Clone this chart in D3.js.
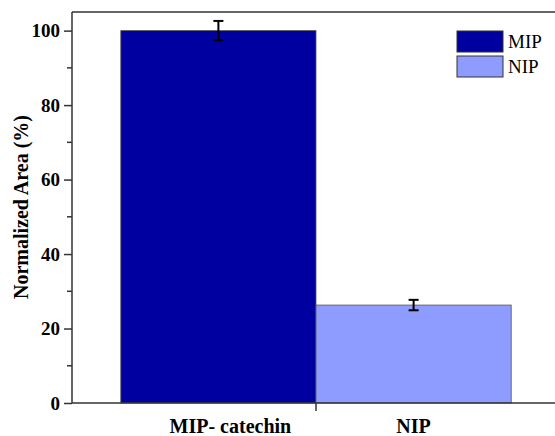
<!DOCTYPE html>
<html>
<head>
<meta charset="utf-8">
<script src="https://cdn.jsdelivr.net/npm/d3@7"></script>
<style>
  body { margin: 0; background: #fff; }
  svg { display: block; }
  .tick text { font-family: "Liberation Serif", "Times New Roman", serif; font-weight: bold; font-size: 19px; fill: #000; }
</style>
</head>
<body>
<div id="chart"></div>
<script>
// data
var categories = ["MIP- catechin", "NIP"];
var seriesNames = ["MIP", "NIP"];
var values = [100, 26.3];
var errors = [2.6, 1.4];
var colors = ["#0000a0", "#8f9cff"];
var yTicks = [0, 20, 40, 60, 80, 100];
var yMinorTicks = [10, 30, 50, 70, 90];

var svgwidth = 555, svgheight = 436;
var plot = {left: 72, right: 560, top: 12, bottom: 403};

var svg = d3.select("#chart").append("svg")
    .attr("width", svgwidth)
    .attr("height", svgheight);

let x = d3.scaleBand()
    .domain(categories)
    .range([plot.left, plot.right])
    .paddingInner(0)
    .paddingOuter(0.25);

let y = d3.scaleLinear()
    .domain([0, 105])
    .range([plot.bottom, plot.top]);

// bars
svg.selectAll("rect.bar")
    .data(categories)
  .enter().append("rect")
    .attr("class", "bar")
    .attr("x", d => x(d))
    .attr("width", x.bandwidth())
    .attr("y", (d, i) => y(values[i]))
    .attr("height", (d, i) => y(0) - y(values[i]))
    .style("fill", (d, i) => colors[i])
    .style("stroke", "#555")
    .style("stroke-width", 0.8);

// error bars
let eb = svg.selectAll("g.err")
    .data(categories)
  .enter().append("g")
    .attr("class", "err");
eb.append("line")
    .attr("x1", d => x(d) + x.bandwidth() / 2)
    .attr("x2", d => x(d) + x.bandwidth() / 2)
    .attr("y1", (d, i) => y(values[i] + errors[i]))
    .attr("y2", (d, i) => y(values[i] - errors[i]));
eb.selectAll("line.cap")
    .data((d, i) => [values[i] + errors[i], values[i] - errors[i]].map(v => ({c: d, v: v})))
  .enter().append("line")
    .attr("class", "cap")
    .attr("x1", d => x(d.c) + x.bandwidth() / 2 - 5)
    .attr("x2", d => x(d.c) + x.bandwidth() / 2 + 5)
    .attr("y1", d => y(d.v))
    .attr("y2", d => y(d.v));
eb.selectAll("line").style("stroke", "#000").style("stroke-width", 2);

// frame
svg.append("line")
    .attr("x1", plot.left).attr("x2", svgwidth)
    .attr("y1", plot.top).attr("y2", plot.top)
    .style("stroke", "#333").style("stroke-width", 1.5);

// y axis
let yAxis = d3.axisLeft(y).tickValues(yTicks).tickSize(8).tickPadding(4);
let gy = svg.append("g")
    .attr("transform", "translate(" + plot.left + ",0)")
    .call(yAxis);
gy.select(".domain").remove();
gy.selectAll(".tick line").style("stroke", "#333").style("stroke-width", 1.5);
svg.append("line")
    .attr("x1", plot.left).attr("x2", plot.left)
    .attr("y1", plot.top).attr("y2", plot.bottom)
    .style("stroke", "#333").style("stroke-width", 1.5);
svg.selectAll("line.minor")
    .data(yMinorTicks)
  .enter().append("line")
    .attr("class", "minor")
    .attr("x1", plot.left - 5).attr("x2", plot.left)
    .attr("y1", d => y(d)).attr("y2", d => y(d))
    .style("stroke", "#333").style("stroke-width", 1.5);

// x axis
svg.append("line")
    .attr("x1", plot.left).attr("x2", svgwidth)
    .attr("y1", plot.bottom).attr("y2", plot.bottom)
    .style("stroke", "#333").style("stroke-width", 1.5);
svg.append("line")
    .attr("x1", x(categories[1])).attr("x2", x(categories[1]))
    .attr("y1", plot.bottom).attr("y2", plot.bottom + 8)
    .style("stroke", "#333").style("stroke-width", 1.5);
svg.selectAll("text.xlab")
    .data(categories)
  .enter().append("text")
    .attr("class", "xlab")
    .attr("x", (d, i) => x(d) + x.bandwidth() / 2 + (i === 0 ? 12 : 0))
    .attr("y", 433)
    .attr("text-anchor", "middle")
    .style("font-family", "'Liberation Serif', 'Times New Roman', serif")
    .style("font-weight", "bold")
    .style("font-size", "20px")
    .text(d => d);

// y title
svg.append("text")
    .attr("transform", "translate(28,207) rotate(-90)")
    .attr("text-anchor", "middle")
    .style("font-family", "'Liberation Serif', 'Times New Roman', serif")
    .style("font-weight", "bold")
    .style("font-size", "20px")
    .text("Normalized Area (%)");

// legend
let lg = svg.selectAll("g.legend")
    .data(seriesNames)
  .enter().append("g")
    .attr("class", "legend")
    .attr("transform", (d, i) => "translate(457," + (31 + i * 25) + ")");
lg.append("rect")
    .attr("width", 46).attr("height", 21)
    .style("fill", (d, i) => colors[i])
    .style("stroke", "#333").style("stroke-width", 1);
lg.append("text")
    .attr("x", 51).attr("y", 17)
    .style("font-family", "'Liberation Serif', 'Times New Roman', serif")
    .style("font-size", "19px")
    .text(d => d);
</script>
</body>
</html>
